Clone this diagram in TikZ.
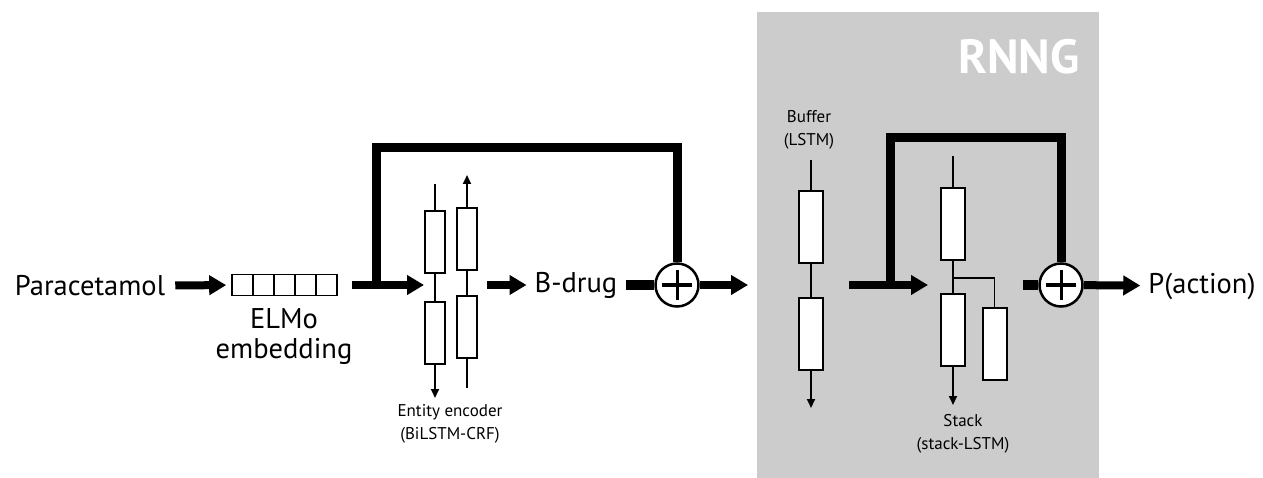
\documentclass[tikz,border=0pt]{standalone}
\usepackage{fontspec}
\setmainfont{PT Sans}
\usepackage{xcolor}
\usetikzlibrary{arrows.meta, positioning}
\definecolor{rnnggrey}{gray}{0.8}
\tikzstyle{cell}       = [rectangle, draw, fill=white, line width=2pt, minimum width=20pt, minimum height=62pt, inner sep=0pt]
\tikzstyle{bigcell}    = [cell, minimum width=24pt, minimum height=72pt]
\tikzstyle{slot}       = [rectangle, draw, line width=1.6pt, minimum size=21pt, inner sep=0pt]
\tikzstyle{merge}      = [circle, draw, fill=white, line width=2.5pt, minimum size=43pt, inner sep=0pt,
                          path picture={\draw[line width=3pt]
                            ([xshift=-15pt]path picture bounding box.center) -- ([xshift=15pt]path picture bounding box.center)
                            ([yshift=-15pt]path picture bounding box.center) -- ([yshift=15pt]path picture bounding box.center);}]
\tikzstyle{bigarrow}   = [-{Triangle[length=17pt, width=19pt]}, line width=8pt]
\tikzstyle{skip}       = [line width=9pt, line join=miter]
\tikzstyle{wire}       = [line width=1.8pt]
\tikzstyle{wirearrow}  = [-{Triangle[length=9pt, width=8pt]}, line width=1.8pt]
\tikzstyle{biglabel}   = [font=\fontsize{28.5}{30}\selectfont, align=center, inner sep=8pt]
\tikzstyle{smalllabel} = [font=\fontsize{17}{23}\selectfont, align=center]

\begin{document}
\begin{tikzpicture}[x=1pt, y=-1pt]
    \useasboundingbox (0,0) rectangle (1263,478);
    % RNNG panel
    \fill[rnnggrey] (757,12) rectangle (1099,478);
    \node (rnng) [text=white, font=\fontsize{48}{50}\selectfont\bfseries] at (1019,57) {RNNG};

    % input and embedding
    \node (para) [biglabel] at (90,286) {Paracetamol};
    \foreach \i in {1,...,5}
        \node (emb\i) [slot] at ({221.5+21*\i},285) {};
    \node (elmo) [biglabel] at (284,337) {ELMo\\embedding};

    % entity encoder
    \node (encL1) [cell] at (435,242) {};
    \node (encL2) [cell] at (435,333) {};
    \node (encR1) [cell] at (467,239) {};
    \node (encR2) [cell] at (467,327) {};
    \coordinate (encLin) at (435,184);
    \coordinate (encLout) at (435,398);
    \coordinate (encRin) at (467,388);
    \coordinate (encRout) at (467,175);
    \coordinate (encin) at (424,285);
    \coordinate (encout) at (487,285);
    \coordinate (split1) at (376,285);
    \node (enclabel) [smalllabel] at (450,424) {Entity encoder\\(BiLSTM-CRF)};

    \node (bdrug) [biglabel] at (576,285) {B-drug};
    \node (plus1) [merge] at (677,285) {};
    \coordinate (rnngout) at (748,285);

    % buffer
    \node (buflabel) [smalllabel] at (809,130) {Buffer\\(LSTM)};
    \node (buf1) [bigcell] at (811,227) {};
    \node (buf2) [bigcell] at (811,333.5) {};
    \coordinate (bufin) at (811,160);
    \coordinate (bufout) at (811,408);

    % stack
    \node (stk1) [bigcell] at (953,224) {};
    \node (stk2) [bigcell] at (953,329.5) {};
    \node (stk3) [bigcell] at (994.5,344) {};
    \coordinate (stkin) at (953,156);
    \coordinate (stkout) at (953,405);
    \coordinate (stkfork) at (953,278);
    \node (stklabel) [smalllabel] at (963,434) {Stack\\(stack-LSTM)};

    \coordinate (rnngin) at (849,285);
    \coordinate (stkarrow) at (928,285);
    \coordinate (split2) at (890,285);
    \coordinate (mergein) at (1023,285);
    \node (plus2) [merge] at (1061,285) {};
    \node (paction) [biglabel] at (1202,286) {P(action)};

    % connectors
    \draw [bigarrow, shorten <=2pt, shorten >=5pt] (para) -- (emb1);
    \draw [bigarrow, shorten <=14pt] (emb5) -- (encin);
    \draw [skip] (split1) -- ++(0,-137) -| (plus1);

    \draw [wire] (encLin) -- (encL1) (encL1) -- (encL2);
    \draw [wirearrow] (encL2) -- (encLout);
    \draw [wire] (encRin) -- (encR2) (encR2) -- (encR1);
    \draw [wirearrow] (encR1) -- (encRout);

    \draw [bigarrow] (encout) -- (bdrug);
    \draw [skip] (bdrug) -- (plus1);
    \draw [bigarrow] (plus1) -- (rnngout);

    \draw [wire] (bufin) -- (buf1) (buf1) -- (buf2);
    \draw [wirearrow] (buf2) -- (bufout);

    \draw [bigarrow] (rnngin) -- (stkarrow);
    \draw [skip] (split2) -- ++(0,-147) -| (plus2);
    \draw [wire] (stkin) -- (stk1) (stk1) -- (stk2);
    \draw [wirearrow] (stk2) -- (stkout);
    \draw [wire] (stkfork) -| (stk3);

    \draw [skip] (mergein) -- (plus2);
    \draw [bigarrow] (plus2) -- (paction);
\end{tikzpicture}
\end{document}
